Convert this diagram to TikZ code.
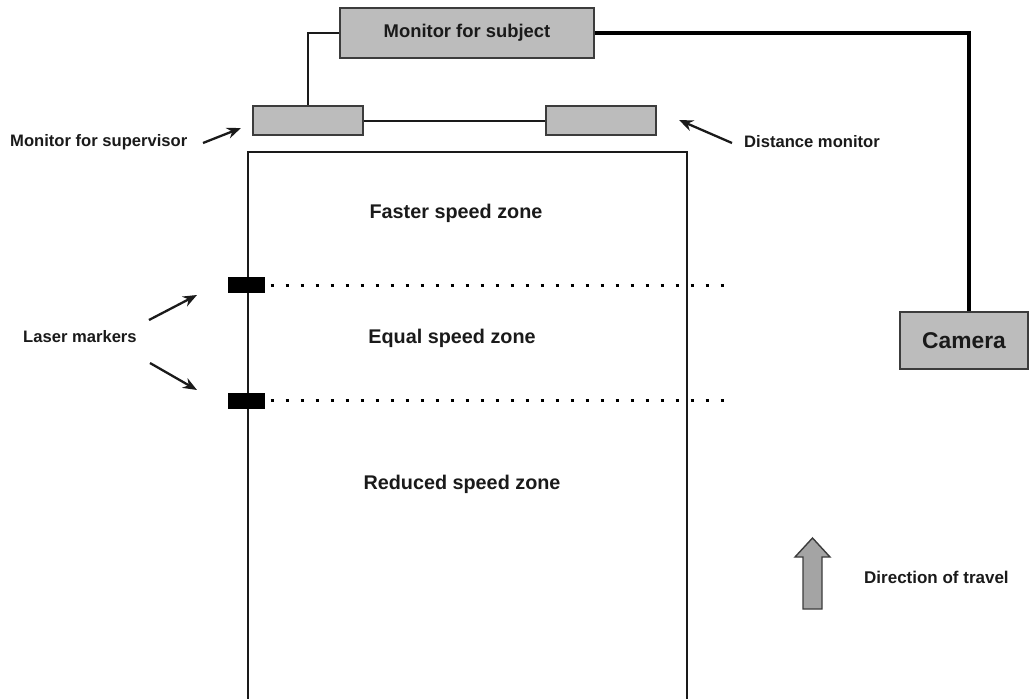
\documentclass[tikz,border=0pt]{standalone}
\usepackage{fontspec}
\setmainfont{Liberation Sans}
\usetikzlibrary{arrows.meta}
\definecolor{boxgray}{HTML}{BCBCBC}
\definecolor{arrowgray}{HTML}{A4A4A4}
\definecolor{ink}{HTML}{1A1A1A}
\begin{document}
\begin{tikzpicture}[x=1pt,y=-1pt,
  gbox/.style={draw=ink!85,line width=1.6pt,fill=boxgray,inner sep=0pt,text=ink,font=\bfseries},
  lbl/.style={text=ink,font=\fontsize{16.6}{18}\selectfont\bfseries,inner sep=0pt},
  zone/.style={text=ink,font=\fontsize{19.8}{22}\selectfont\bfseries,inner sep=0pt},
  wire/.style={draw=ink,line width=2pt},
  pointer/.style={draw=ink,line width=2.3pt,-{Stealth[length=14pt,width=11pt]}},
  laser/.style={fill=black,draw=none,minimum width=37pt,minimum height=16pt,inner sep=0pt},
  dots/.style={draw=black,line width=3pt,dash pattern=on 3pt off 12pt}]
\useasboundingbox (0,0) rectangle (1029,699);
% monitors
\node[gbox,minimum width=254pt,minimum height=50pt,font=\fontsize{18.4}{20}\selectfont\bfseries] (subj) at (467,33) {Monitor for subject};
\node[gbox,minimum width=110pt,minimum height=29pt] (sup) at (308,120.5) {};
\node[gbox,minimum width=110pt,minimum height=29pt] (dist) at (601,120.5) {};
\node[gbox,minimum width=128pt,minimum height=57pt,font=\fontsize{22.8}{25}\selectfont\bfseries] (cam) at (964,340.5) {Camera};
\coordinate (camtop) at ([xshift=5pt]cam.north);
% wires
\draw[wire] (sup.north) |- (subj.west);
\draw[wire] (sup.east) -- (dist.west);
\draw[draw=black,line width=3.5pt] (subj.east) -| (camtop);
% corridor
\coordinate (cl) at (248,703);
\coordinate (cr) at (687,703);
\draw[draw=ink,line width=2.2pt] (cl) |- (687,152) -- (cr);
% zone labels
\node[zone] (fast) at (456,213) {Faster speed zone};
\node[zone] (equal) at (452,338) {Equal speed zone};
\node[zone] (reduced) at (462,484) {Reduced speed zone};
% laser markers
\node[laser] (l1) at (246,285) {};
\node[laser] (l2) at (246,400.5) {};
\coordinate (d1) at (733,285);
\coordinate (d2) at (733,400.5);
\draw[dots] ([xshift=6pt]l1.east) -- (d1);
\draw[dots] ([xshift=6pt]l2.east) -- (d2);
% side labels
\node[lbl,anchor=west] (tsup) at (10,142) {Monitor for supervisor};
\node[lbl,anchor=west] (tdist) at (744,142) {Distance monitor};
\node[lbl,anchor=west] (tlaser) at (23,337) {Laser markers};
\node[lbl,anchor=west,font=\fontsize{17}{19}\selectfont\bfseries] (tdir) at (864,577) {Direction of travel};
% pointers
\coordinate (psup) at (241,128);
\coordinate (pdist) at (679,120);
\coordinate (pl1) at (197,295);
\coordinate (pl2) at (197,390);
\draw[pointer] (203,143) -- (psup);
\draw[pointer] (732,143) -- (pdist);
\draw[pointer] (149,320) -- (pl1);
\draw[pointer] (150,363) -- (pl2);
% direction arrow
\draw[draw=ink!85,line width=1.4pt,fill=arrowgray,line join=miter]
  (812.5,538) -- (830,557) -- (822,557) -- (822,609) -- (803,609) -- (803,557) -- (795,557) -- cycle;
\end{tikzpicture}
\end{document}
